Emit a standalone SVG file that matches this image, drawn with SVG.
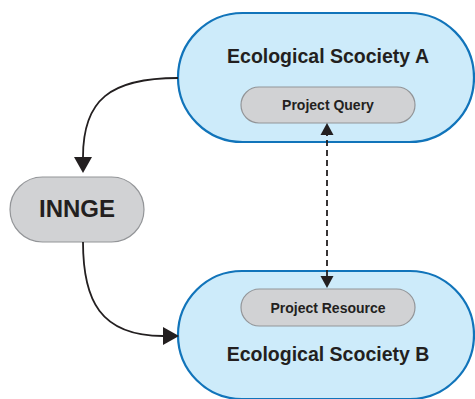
<svg xmlns="http://www.w3.org/2000/svg" width="475" height="399" viewBox="0 0 475 399">
<style>
.soc{fill:#cdebfa;stroke:#1174ba;stroke-width:2.2}
.pill{fill:#d1d2d4;stroke:#939598;stroke-width:1.2}
.t{font-family:"Liberation Sans",Arial,sans-serif;font-weight:bold;fill:#231f20;text-anchor:middle}
.big{font-size:19.5px}
.small{font-size:14px}
.conn{fill:none;stroke:#231f20;stroke-width:1.8}
.dash{fill:none;stroke:#231f20;stroke-width:1.8;stroke-dasharray:6 4}
</style>
<defs>
<marker id="ah" markerUnits="userSpaceOnUse" markerWidth="17" markerHeight="19" refX="0" refY="9" orient="auto" overflow="visible">
<path d="M0,0 L16,9 L0,18 Z" fill="#231f20"/>
</marker>
<marker id="ahs" markerUnits="userSpaceOnUse" markerWidth="13" markerHeight="14" refX="0" refY="6.5" orient="auto-start-reverse" overflow="visible">
<path d="M0,0 L12,6.5 L0,13 Z" fill="#231f20"/>
</marker>
</defs>
<g id="societyA">
<rect class="soc" x="178" y="13" width="296" height="129" rx="64.5"/>
<text class="t big" x="328" y="63">Ecological Scociety A</text>
</g>
<g id="projectQuery">
<rect class="pill" x="241" y="87" width="174" height="36" rx="18"/>
<text class="t small" x="328" y="110">Project Query</text>
</g>
<g id="societyB">
<rect class="soc" x="178" y="271" width="296" height="128" rx="64"/>
<text class="t big" x="328" y="361">Ecological Scociety B</text>
</g>
<g id="projectResource">
<rect class="pill" x="241" y="289" width="174" height="37" rx="18.5"/>
<text class="t small" x="328" y="313">Project Resource</text>
</g>
<g id="innge">
<rect class="pill" x="10" y="177" width="134" height="65" rx="32.5" stroke-width="1.5"/>
<text class="t" x="77" y="217" style="font-size:24px">INNGE</text>
</g>
<g id="connectors">
<path class="conn" d="M178,78 C110,78 83,100 83,157" marker-end="url(#ah)"/>
<path class="conn" d="M83,242 C83,300 100,336 163,336" marker-end="url(#ah)"/>
<path class="dash" d="M327,276 L327,135" marker-start="url(#ahs)" marker-end="url(#ahs)"/>
</g>
</svg>
